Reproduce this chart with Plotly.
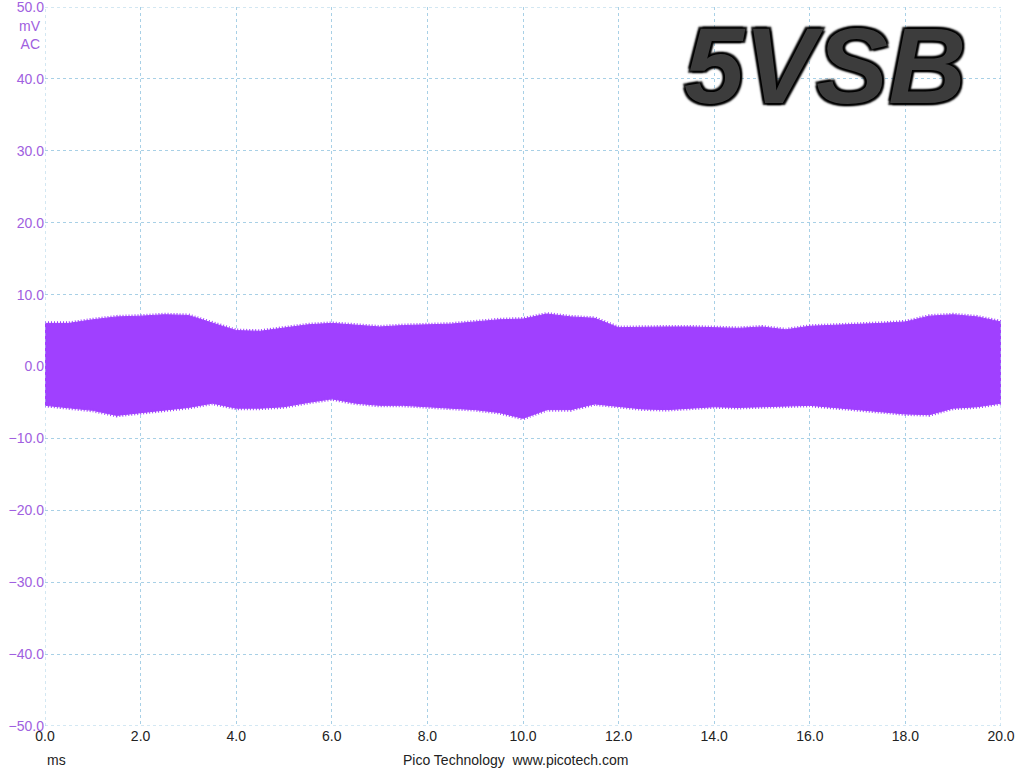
import plotly.graph_objects as go

# time axis (ms) and read-off envelope of the ripple band (mV)
time_ms = [0.0, 0.5, 1.0, 1.5, 2.0, 2.5, 3.0, 3.5, 4.0, 4.5, 5.0, 5.5, 6.0, 6.5,
           7.0, 7.5, 8.0, 8.5, 9.0, 9.5, 10.0, 10.5, 11.0, 11.5, 12.0, 12.5,
           13.0, 13.5, 14.0, 14.5, 15.0, 15.5, 16.0, 16.5, 17.0, 17.5, 18.0,
           18.5, 19.0, 19.5, 20.0]
upper_mv = [6.0, 6.0, 6.5, 6.9, 7.0, 7.2, 7.1, 6.0, 5.0, 4.9, 5.4, 5.8, 6.0, 5.7,
            5.5, 5.7, 5.8, 5.9, 6.2, 6.5, 6.6, 7.3, 6.9, 6.7, 5.4, 5.5,
            5.5, 5.5, 5.4, 5.3, 5.5, 5.1, 5.6, 5.7, 5.8, 6.0, 6.2,
            7.0, 7.2, 6.9, 6.2]
lower_mv = [-5.4, -5.8, -6.1, -6.8, -6.4, -6.0, -5.7, -5.1, -5.8, -5.8, -5.6, -5.0, -4.5, -5.1,
            -5.4, -5.4, -5.6, -5.8, -6.0, -6.4, -7.2, -6.0, -6.0, -5.2, -5.6, -5.9,
            -6.0, -5.8, -5.6, -5.7, -5.6, -5.6, -5.4, -5.7, -6.0, -6.3, -6.6,
            -6.7, -5.8, -5.6, -5.1]

y_ticks = [-50, -40, -30, -20, -10, 0, 10, 20, 30, 40, 50]
x_ticks = [0, 2, 4, 6, 8, 10, 12, 14, 16, 18, 20]

purple = "#a040ff"
label_purple = "#a060e0"
grid = "#a8d0e6"
font_fam = "Liberation Sans, Arial, sans-serif"

fig = go.Figure()
fig.add_trace(go.Scatter(x=time_ms, y=lower_mv, mode="lines",
                         line=dict(color=purple, width=1), hoverinfo="skip"))
fig.add_trace(go.Scatter(x=time_ms, y=upper_mv, mode="lines", fill="tonexty",
                         fillcolor=purple, line=dict(color=purple, width=1),
                         hoverinfo="skip"))
# ragged noisy edge of the trace
for env in (upper_mv, lower_mv):
    fig.add_trace(go.Scatter(x=time_ms, y=env, mode="lines", hoverinfo="skip",
                             line=dict(color=purple, width=4, dash="1px,2px")))

fig.update_layout(
    width=1024, height=768,
    margin=dict(l=45, r=23, t=7, b=42, autoexpand=False),
    paper_bgcolor="white", plot_bgcolor="white",
    showlegend=False,
    font=dict(family=font_fam, size=14),
)
fig.update_xaxes(range=[0, 20], tickvals=x_ticks, tickformat=".1f",
                 showgrid=True, gridcolor=grid, griddash="3px,3px", gridwidth=1,
                 zeroline=False, showline=False, ticks="", automargin=False,
                 ticklabeloverflow="allow",
                 tickfont=dict(color="#222222", size=14))
fig.update_yaxes(range=[-50, 50], tickvals=y_ticks, tickformat=".1f",
                 showgrid=True, gridcolor=grid, griddash="3px,3px", gridwidth=1,
                 zeroline=False, showline=False, ticks="", automargin=False,
                 ticklabeloverflow="allow",
                 tickfont=dict(color=label_purple, size=14))

# dashed frame at the edges
for x0, y0, x1, y1 in [(0, -50, 20, -50), (0, 50, 20, 50), (0, -50, 0, 50), (20, -50, 20, 50)]:
    fig.add_shape(type="line", x0=x0, y0=y0, x1=x1, y1=y1, xref="x", yref="y",
                  line=dict(color=grid, width=1, dash="3px,3px"))

fig.add_annotation(text="mV<br>AC", xref="paper", yref="paper", x=0, y=1,
                   xanchor="right", yanchor="top", xshift=-2, yshift=-9,
                   showarrow=False, align="right",
                   font=dict(color=label_purple, size=14))
fig.add_annotation(text="ms", xref="paper", yref="paper", x=0, y=0,
                   xanchor="left", yanchor="top", xshift=0, yshift=-24,
                   showarrow=False, font=dict(color="#222222", size=14))
fig.add_annotation(text="Pico Technology  www.picotech.com", xref="paper", yref="paper",
                   x=0.492, y=0, xanchor="center", yanchor="top", yshift=-24,
                   showarrow=False, font=dict(color="#222222", size=14))

# embossed-looking title: dark grey letters with a black halo
fig.add_annotation(text="<b><i>5VSB</i></b>", xref="paper", yref="paper",
                   x=0.9655, y=1, xanchor="right", yanchor="top",
                   yshift=4, showarrow=False,
                   font=dict(color="#3c3c3c", size=108, family=font_fam,
                             shadow="2px 2px 2px #000, -2px -2px 2px #000, "
                                    "2px -2px 2px #000, -2px 2px 2px #000"))

# drop the browser's default 8px body margin so the figure sits at the corner
fig.write_html("out.html", config={"displayModeBar": False},
               post_script="document.body.style.margin = '0px';")
